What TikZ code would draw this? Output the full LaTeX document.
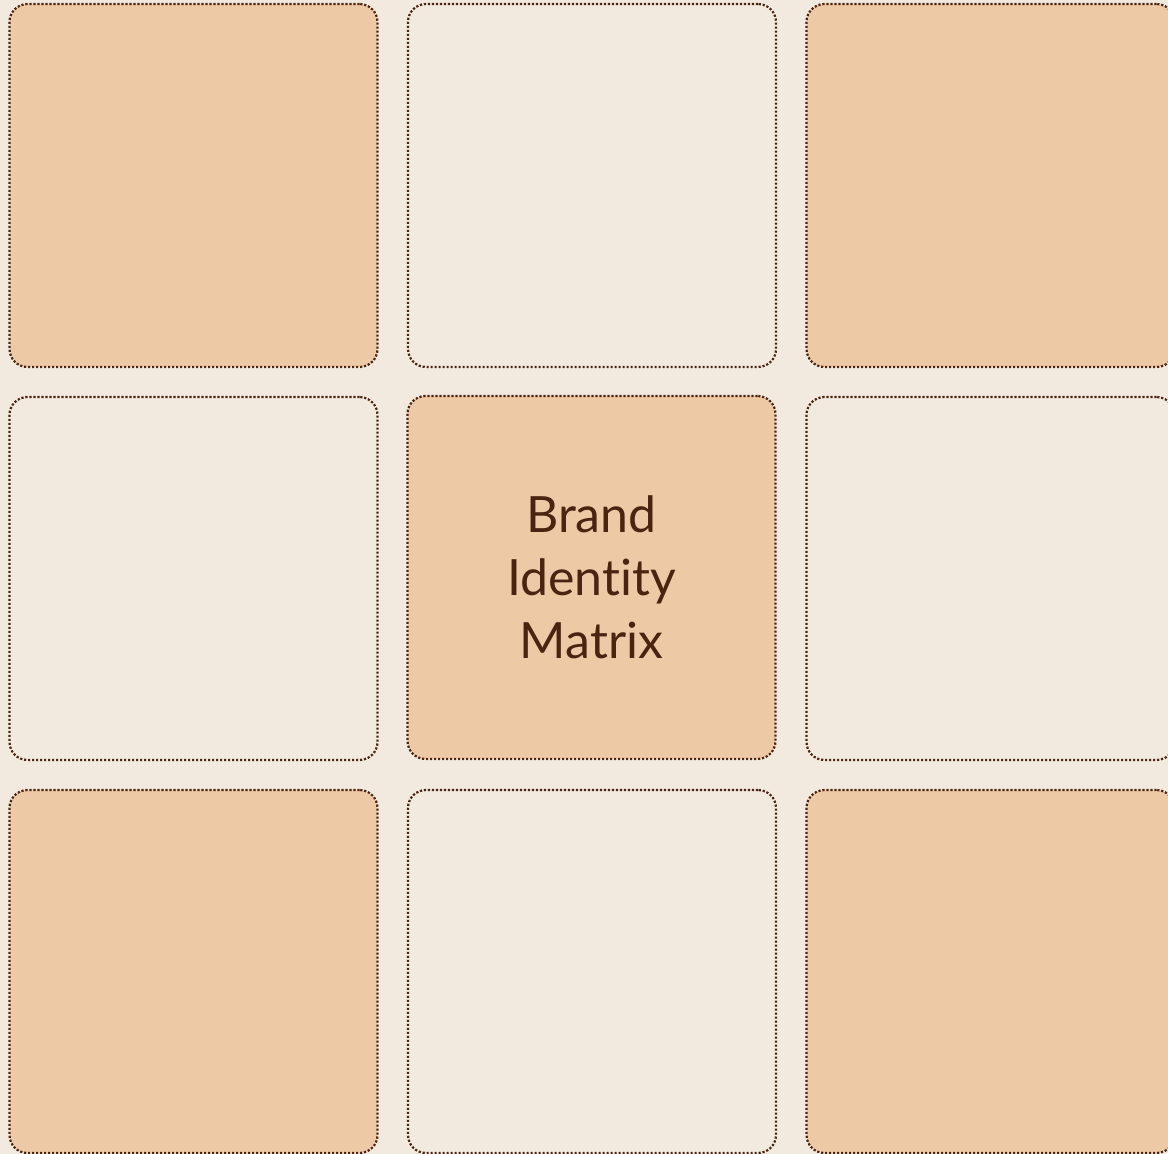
\documentclass[tikz,border=0pt]{standalone}
\usepackage{fontspec}
\setmainfont{Lato}[Ligatures=NoCommon]
\definecolor{bgcream}{HTML}{F2EADF}
\definecolor{peach}{HTML}{EEC9A5}
\definecolor{ink}{HTML}{4A2410}
\tikzset{
	tile/.style={draw=ink, line width=1.1pt, dash pattern=on 1.1pt off 0.9pt, rounded corners=9pt,
		minimum width=184pt, minimum height=181.5pt, inner sep=0pt, text=ink, align=center,
		font=\fontsize{25}{31.5}\selectfont},
	peachtile/.style={tile, fill=peach},
	plaintile/.style={tile, fill=bgcream}
}
\begin{document}
\begin{tikzpicture}[x=0.5pt, y=-0.5pt, line join=round]
			\fill[bgcream] (0,0) rectangle (1168,1154);
			\useasboundingbox (0,0) rectangle (1168,1154);
			
			% 3x3 grid of tiles, corners and centre filled
			\foreach \c/\r/\s in {0/0/peachtile, 1/0/plaintile, 2/0/peachtile,
				0/1/plaintile, 2/1/plaintile,
				0/2/peachtile, 1/2/plaintile, 2/2/peachtile}
			{ \node[\s] (t\c\r) at ({193.5+398.5*\c}, {185.5+393*\r}) {}; }
			
			\node[peachtile] (t11) at (591.5, 577.5) {Brand\\Identity\\Matrix};
	\end{tikzpicture}
\end{document}
